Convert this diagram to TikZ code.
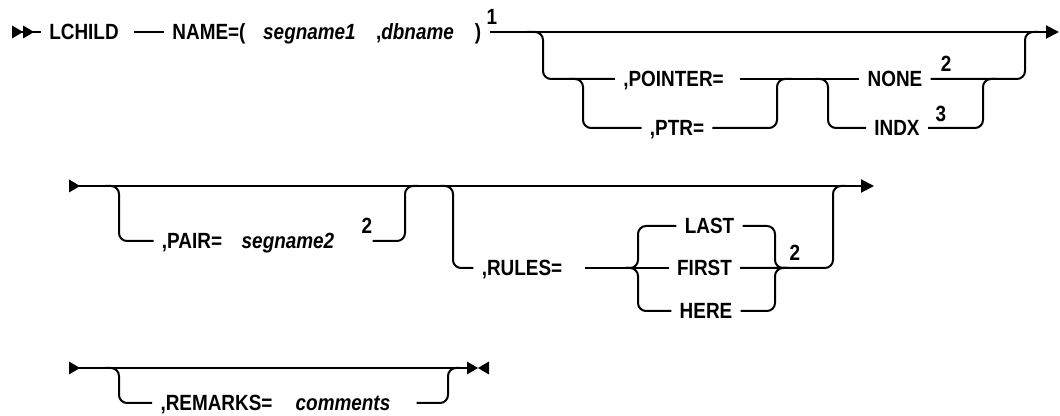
\documentclass[tikz,border=0pt]{standalone}
\usepackage{fontspec}
\setmainfont{Liberation Sans}[FakeStretch=0.86]
\usetikzlibrary{arrows.meta}
\tikzset{
  kw/.style={inner ysep=0pt, inner xsep=4pt, text height=7.9pt, text depth=0pt,
    font=\fontsize{11}{13}\selectfont\bfseries},
  var/.style={kw, font=\fontsize{11}{13}\selectfont\bfseries\itshape},
  supnum/.style={inner sep=0pt, font=\fontsize{11}{13}\selectfont\bfseries},
  rail/.style={line width=1pt, rounded corners=4pt},
  tail/.style={shorten <=#1},
  endtip/.style={-{Triangle[length=6.5pt,width=6.5pt]}},
  rtip/.pic={\fill (0,-6.5) -- (11,0) -- (0,6.5) -- cycle;}
}
\begin{document}
\begin{tikzpicture}[x=0.5pt,y=-0.5pt]
  \useasboundingbox (0,0) rectangle (1060,416);
  % first line
  \coordinate (r1s) at (12,32);
  \coordinate (r1e) at (1059,32);
  \pic at (r1s) {rtip};
  \pic at (23,32) {rtip};
  \node[kw] (lchild) at (84,32) {LCHILD};
  \node[kw] (name) at (209,32) {NAME=(};
  \node[var] (seg1) at (309.5,32) {segname1};
  \node[kw] (dbname) at (415,32) {,\textit{dbname}};
  \node[kw] (rparen) at (478,32) {)};
  \node[supnum] (note1) at (492,17) {1};
  \draw[rail] (r1s) -- (lchild.west);
  \draw[rail, tail=3.5pt] (lchild.east) -- (name.west);
  \draw[rail, endtip] (rparen.east) -- (r1e);
  \node[kw] (pointer) at (673.5,79) {,POINTER=};
  \node[kw] (ptr) at (677,128) {,PTR=};
  \node[kw] (none) at (895,79) {NONE};
  \node[kw] (indx) at (897,128) {INDX};
  \node[supnum] (note2a) at (946,64) {2};
  \node[supnum] (note3) at (941,114) {3};
  \draw[rail] (527,32) -| (543,79) -- (pointer.west);
  \draw[rail] (570,79) -| (583,128) -- (ptr.west);
  \draw[rail] (ptr.east) -| (777,79) -- (792,79);
  \draw[rail, tail=4pt] (pointer.east) -- (none.west);
  \draw[rail] (815,79) -| (828,128) -- (indx.west);
  \draw[rail] (indx.east) -| (983,79) -- (996,79);
  \draw[rail] (none.east) -| (1025,32) -- (1038,32);
  % second line
  \coordinate (r2s) at (69,186);
  \coordinate (r2e) at (874,186);
  \pic at (r2s) {rtip};
  \draw[rail, endtip] (r2s) -- (r2e);
  \node[kw] (pair) at (192,241) {,PAIR=};
  \node[var] (seg2) at (288,241) {segname2};
  \node[supnum] (note2b) at (367,226) {2};
  \draw[rail] (105,186) -| (119,241) -- (pair.west);
  \draw[rail] (note2b.east |- seg2.east) -| (405,186) -- (418,186);
  \node[kw] (rules) at (522,268) {,RULES=};
  \node[kw] (last) at (709.5,226) {LAST};
  \node[kw] (first) at (704.5,268) {FIRST};
  \node[kw] (here) at (706,311) {HERE};
  \node[supnum] (note2c) at (795,253) {2};
  \draw[rail] (440,186) -| (453,268) -- (rules.west);
  \draw[rail, tail=7pt] (rules.east) -- (first.west);
  \draw[rail] (last.west) -| (638,268) -- (626,268);
  \draw[rail] (here.west) -| (638,268) -- (626,268);
  \draw[rail] (last.east) -| (775,268) -- (787,268);
  \draw[rail] (here.east) -| (775,268) -- (787,268);
  \draw[rail] (first.east) -| (833,186) -- (846,186);
  % third line
  \coordinate (r3s) at (69,368);
  \coordinate (r3e) at (467,368);
  \pic at (r3s) {rtip};
  \pic at (r3e) {rtip};
  \pic[xscale=-1] at (489,368) {rtip};
  \draw[rail] (r3s) -- (r3e);
  \node[kw] (remarks) at (216.5,403) {,REMARKS=};
  \node[var] (comments) at (343,403) {comments};
  \draw[rail] (105,368) -| (119,403) -- (remarks.west);
  \draw[rail, tail=9pt] (comments.east) -| (448,368) -- (460,368);
\end{tikzpicture}
\end{document}
